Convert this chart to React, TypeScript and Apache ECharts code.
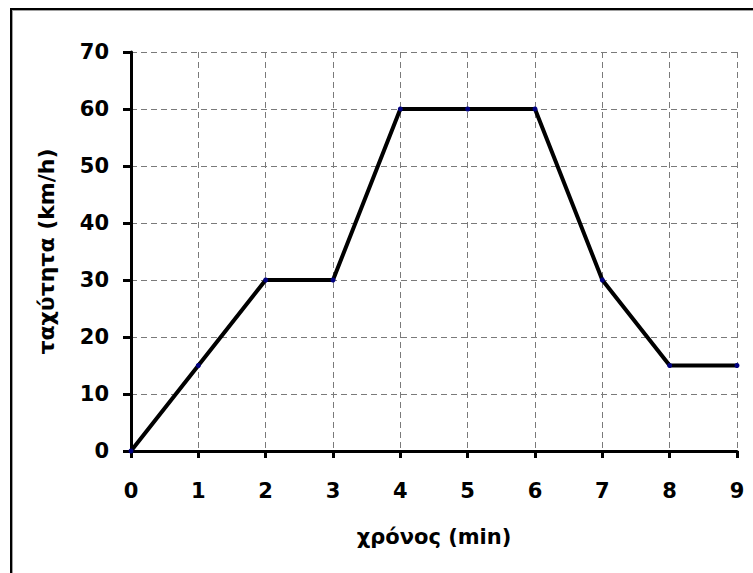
import React, { useEffect, useRef } from "react";
import * as echarts from "echarts";

const times = [0, 1, 2, 3, 4, 5, 6, 7, 8, 9];
const speeds = [0, 15, 30, 30, 60, 60, 60, 30, 15, 15];
const xTitle = "χρόνος (min)";
const yTitle = "ταχύτητα (km/h)";

const FONT = "'DejaVu Sans', Verdana, sans-serif";

export default function App() {
  const ref = useRef<HTMLDivElement>(null);
  useEffect(() => {
    document.body.style.margin = "0";
    const chart = echarts.init(ref.current!, null, { renderer: "svg" });
    chart.setOption({
      animation: false,
      backgroundColor: "#ffffff",
      graphic: [
        {
          type: "rect",
          shape: { x: 12, y: 10, width: 800, height: 700 },
          style: { fill: "none", stroke: "#a0a0a0", lineWidth: 2 },
          z: 0,
        },
        {
          type: "rect",
          shape: { x: 11, y: 9, width: 800, height: 700 },
          style: { fill: "none", stroke: "#000000", lineWidth: 2 },
          z: 1,
        },
      ],
      grid: { left: 131, top: 52, width: 606, height: 399, containLabel: false },
      xAxis: {
        type: "value",
        min: 0,
        max: 9,
        interval: 1,
        name: xTitle,
        nameLocation: "middle",
        nameGap: 75,
        nameTextStyle: { fontFamily: FONT, fontWeight: "bold", fontSize: 21, color: "#000" },
        axisLine: { show: true, onZero: false, lineStyle: { color: "#000", width: 3 } },
        axisTick: { show: true, length: 7, lineStyle: { color: "#000", width: 3 } },
        axisLabel: { fontFamily: FONT, fontWeight: "bold", fontSize: 21, color: "#000", margin: 29 },
        splitLine: { show: true, lineStyle: { color: "#7a7a7a", width: 1, type: [6, 4] } },
      },
      yAxis: {
        type: "value",
        min: 0,
        max: 70,
        interval: 10,
        name: yTitle,
        nameLocation: "middle",
        nameGap: 74,
        nameTextStyle: { fontFamily: FONT, fontWeight: "bold", fontSize: 22, color: "#000" },
        axisLine: { show: true, onZero: false, lineStyle: { color: "#000", width: 3 } },
        axisTick: { show: true, length: 8, lineStyle: { color: "#000", width: 3 } },
        axisLabel: { fontFamily: FONT, fontWeight: "bold", fontSize: 21, color: "#000", margin: 22 },
        splitLine: { show: true, lineStyle: { color: "#7a7a7a", width: 1, type: [6, 4] } },
      },
      series: [
        {
          type: "line",
          data: times.map((t, i) => [t, speeds[i]]),
          lineStyle: { color: "#000", width: 4 },
          itemStyle: { color: "#000080", borderWidth: 0 },
          symbol: "circle",
          symbolSize: 5,
          showSymbol: true,
          z: 5,
        },
      ],
    });
    return () => chart.dispose();
  }, []);
  return <div ref={ref} style={{ width: 753, height: 573 }} />;
}
